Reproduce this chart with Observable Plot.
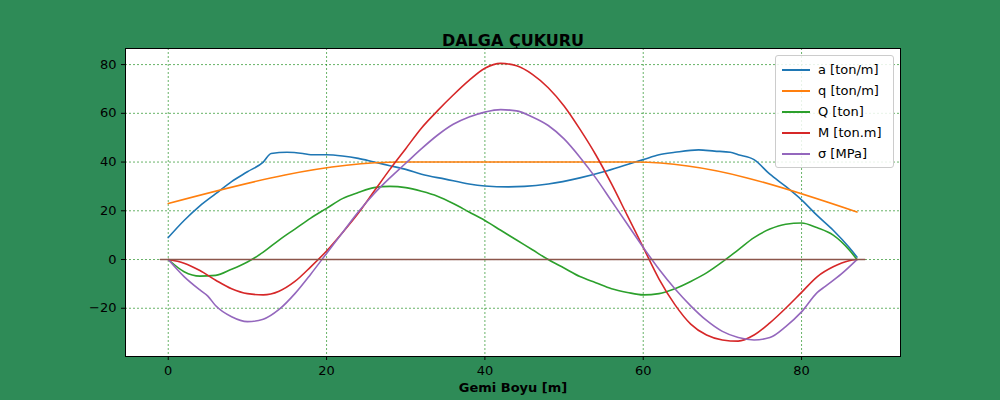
<!DOCTYPE html>
<html><head><meta charset="utf-8">
<script src="https://cdn.jsdelivr.net/npm/d3@7"></script>
<script src="https://cdn.jsdelivr.net/npm/@observablehq/plot@0.6"></script>
<style>
body{margin:0;background:#2e8b57;font-family:"DejaVu Sans",sans-serif}
#wrap{position:relative;width:1000px;height:400px}
#legend{position:absolute;left:775px;top:55px;width:117px;background:rgba(255,255,255,0.85);border:1px solid #ccc;border-radius:3px;padding:3px 0;font-size:13px}
#legend div{display:flex;align-items:center;height:21px;padding-left:6px}
#legend span{display:inline-block;width:28px;height:2px;margin-right:8px}
</style></head>
<body><div id="wrap"><div id="chart"></div><div id="legend"></div></div>
<script>
const names = ['a [ton/m]', 'q [ton/m]', 'Q [ton]', 'M [ton.m]', 'σ [MPa]']
const colors = ['#1f77b4', '#ff7f0e', '#2ca02c', '#d62728', '#9467bd']

const aPts = [[0,9],[2,16],[4,22],[6,27],[8,32],[10,36],[12,40],[13,43.5],[15,44],[17,43.5],[18,43],[20,43],[22,42.5],[24,41.5],[26,40],[28,38.5],[30,37],[32,35],[35,33],[38,31],[40,30.2],[43,29.8],[45,30],[48,31],[52,33.5],[55,36],[58,39],[60,41],[62,43],[64,44],[67,45],[69,44.5],[71,44],[72,43],[74,41],[76,35],[78,30],[80,24.5],[82,18],[84,12],[86,5],[87,1]]
const qPts = [[0,23],[29.5,40],[59,40],[87,19.5]]
const QPts = [[0,0],[2,-5],[4,-6.8],[6,-6.5],[8,-4],[10,-1],[12,3],[14,8],[16,12.5],[18,17],[20,21],[22,25],[24,27.5],[26,29.5],[28,30],[30,29.5],[32,28],[34,26],[36,23],[38,19.5],[40,16],[42,12],[44,8],[46,4],[48,0],[50,-3.5],[52,-7],[54,-9.5],[56,-12],[58,-13.5],[60,-14.5],[62,-14],[64,-12],[66,-9],[68,-5.5],[70,-1],[72,4],[74,9],[76,12.5],[78,14.5],[80,15],[82,13],[84,10],[86,4],[87,0]]
const MPts = [[0,0],[2,-1.5],[4,-4.5],[6,-8.5],[8,-12],[10,-14],[12,-14.5],[14,-13],[16,-9],[18,-3],[20,3.5],[22,11],[24,19],[26,28],[28,37],[30,45.5],[32,54],[34,61],[36,67.5],[38,73.5],[40,78.5],[42,80.5],[44,79.5],[46,76],[48,70.5],[50,63],[52,53.5],[54,43],[56,31],[58,18],[60,5],[62,-8],[64,-18.5],[66,-26.5],[68,-31],[70,-33],[72,-33.5],[74,-31],[76,-26],[78,-20],[80,-13.5],[82,-7],[84,-3],[86,-0.5],[87,0]]
const sPts = [[0,0],[2,-7],[4,-12.5],[5,-15],[6,-19],[8,-23.5],[10,-25.5],[12,-24.5],[14,-20.5],[16,-14],[18,-6],[20,2.5],[22,11],[24,19.5],[26,27],[28,33.5],[30,39.5],[32,45.5],[34,51],[36,55.5],[38,58.5],[40,60.5],[42,61.5],[44,61],[46,58.5],[48,55],[50,49.5],[52,42],[54,33.5],[56,24],[58,14.5],[60,5],[62,-4],[64,-12],[66,-19],[68,-25],[70,-29.5],[72,-32],[74,-33],[76,-32],[78,-27.5],[80,-21.5],[82,-13.5],[83,-11],[85,-6],[87,0]]
const zeroPts = [[-1,0],[88,0]]
const series = [aPts, qPts, QPts, MPts, sPts]

const chart = Plot.plot({
  width: 1000, height: 400,
  marginLeft: 125, marginRight: 100, marginTop: 48, marginBottom: 44,
  style: {background: 'transparent', fontSize: '13px', fontFamily: 'DejaVu Sans', color: 'black'},
  x: {domain: [-5.4, 92.5], ticks: [0, 20, 40, 60, 80], label: null, tickSize: 4},
  y: {domain: [-39.8, 86.6], ticks: [-20, 0, 20, 40, 60, 80], label: null, tickSize: 4, tickFormat: d => d < 0 ? '−' + (-d) : d},
  marks: [
    Plot.frame({fill: 'white'}),
    Plot.gridX([0, 20, 40, 60, 80], {stroke: 'green', strokeOpacity: 1, strokeDasharray: '2,2', strokeWidth: 0.6}),
    Plot.gridY([-20, 0, 20, 40, 60, 80], {stroke: 'green', strokeOpacity: 1, strokeDasharray: '2,2', strokeWidth: 0.6}),
    ...series.map((s, i) => Plot.line(s, {x: d => d[0], y: d => d[1], stroke: colors[i], strokeWidth: 1.6, curve: 'monotone-x'})),
    Plot.line(zeroPts, {x: d => d[0], y: d => d[1], stroke: '#8c564b', strokeWidth: 1.5}),
    Plot.frame({stroke: 'black'}),
    Plot.axisX({ticks: [0, 20, 40, 60, 80], tickSize: 4}),
    Plot.axisY({ticks: [-20, 0, 20, 40, 60, 80], tickSize: 4, tickFormat: d => d < 0 ? '−' + (-d) : d}),
    Plot.text(['DALGA ÇUKURU'], {frameAnchor: 'top', dy: -14, fontSize: 16, fontWeight: 'bold'}),
    Plot.text(['Gemi Boyu [m]'], {frameAnchor: 'bottom', dy: 35, fontSize: 13, fontWeight: 'bold'})
  ]
})
d3.select('#chart').append(() => chart)

const leg = d3.select('#legend')
names.forEach((n, i) => {
  const row = leg.append('div')
  row.append('span').style('background', colors[i])
  row.append('text').text(n)
})
</script></body></html>
